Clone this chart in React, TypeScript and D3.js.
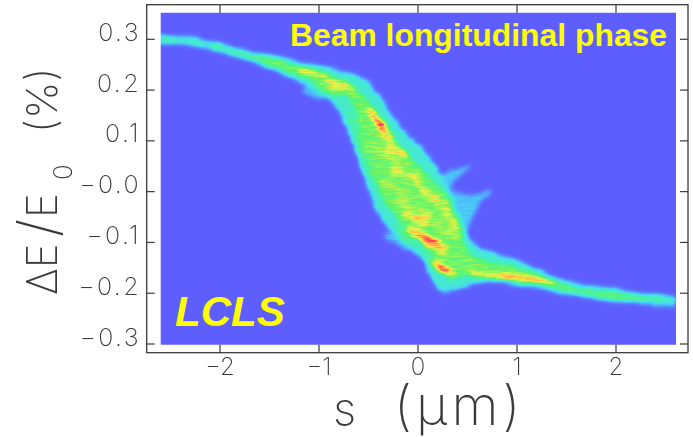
import React from "react";
import { scaleLinear, area, line, curveCatmullRom, curveCatmullRomClosed } from "d3";

// envelope of the beam (s in um, dE/E0 in %)
const outerS = [-2.61, -2.25, -1.9, -1.6, -1.2, -0.89, -0.69, -0.54, -0.39, -0.19, 0.02, 0.12, 0.22, 0.27, 0.36, 0.52, 0.62, 0.82, 1.16, 1.49, 1.83, 2.16, 2.59];
const outerTop = [0.305, 0.299, 0.283, 0.27, 0.251, 0.241, 0.231, 0.217, 0.184, 0.125, 0.084, 0.062, 0.03, 0.008, -0.032, -0.097, -0.112, -0.127, -0.153, -0.178, -0.19, -0.2, -0.21];
const outerBottom = [0.295, 0.289, 0.272, 0.254, 0.221, 0.186, 0.123, 0.038, -0.04, -0.088, -0.113, -0.158, -0.19, -0.198, -0.19, -0.182, -0.178, -0.176, -0.184, -0.199, -0.209, -0.217, -0.222];

const coreS = [-2.05, -1.9, -1.6, -1.2, -0.89, -0.69, -0.54, -0.39, -0.19, 0.02, 0.22, 0.37, 0.52, 0.82, 1.16, 1.49, 1.83, 2.16, 2.44];
const coreTop = [0.292, 0.278, 0.265, 0.245, 0.228, 0.212, 0.185, 0.15, 0.092, 0.052, 0.005, -0.045, -0.118, -0.142, -0.16, -0.184, -0.196, -0.205, -0.211];
const coreBottom = [0.288, 0.275, 0.257, 0.229, 0.2, 0.178, 0.075, -0.005, -0.058, -0.098, -0.138, -0.168, -0.165, -0.164, -0.178, -0.194, -0.204, -0.212, -0.217];

// faint lobes sticking out of the beam
const lobes: [number, number][][] = [
  [[0.22, 0.032], [0.37, 0.042], [0.52, 0.052], [0.47, 0.038], [0.37, 0.023], [0.32, 0.007]],
  [[0.27, 0.003], [0.52, -0.007], [0.74, 0.003], [0.62, -0.027], [0.52, -0.066], [0.42, -0.095], [0.32, -0.086]],
  [[-1.17, 0.204], [-0.84, 0.21], [-0.74, 0.19], [-1.04, 0.186]],
  [[-0.34, -0.086], [-0.14, -0.082], [0.02, -0.119], [-0.14, -0.111]],
  [[-0.72, 0.17], [-0.6, 0.12], [-0.5, 0.02], [-0.62, 0.08]],
];

// dense streaks: s0, dE0, s1, dE1, spread
const greenStreaks = [
  [-0.42, 0.09, -0.2, 0.06, 0.016],
  [-0.36, 0.02, -0.12, -0.01, 0.016],
  [-0.2, -0.02, 0.1, -0.05, 0.016],
  [0.05, 0, 0.3, -0.04, 0.014],
  [-0.2, -0.07, 0.1, -0.1, 0.014],
  [0.05, -0.04, 0.3, -0.08, 0.014],
  [0, -0.12, 0.3, -0.15, 0.016],
];
const yellowStreaks = [
  [-1.18, 0.237, -0.94, 0.229, 0.011],
  [-0.89, 0.216, -0.67, 0.204, 0.011],
  [-0.47, 0.16, -0.27, 0.101, 0.018],
  [-0.32, 0.082, -0.14, 0.076, 0.012],
  [-0.24, 0.042, -0.02, 0.029, 0.012],
  [-0.02, 0.017, 0.19, -0.017, 0.008],
  [-0.12, -0.046, 0.09, -0.06, 0.012],
  [-0.06, -0.076, 0.25, -0.115, 0.018],
  [0.17, -0.139, 0.34, -0.164, 0.018],
  [0.55, -0.158, 1.36, -0.18, 0.012],
];
const redStreaks = [
  [-0.43, 0.145, -0.37, 0.125, 0.012],
  [0.02, -0.088, 0.19, -0.101, 0.01],
  [0.22, -0.149, 0.3, -0.158, 0.012],
  [0.72, -0.164, 1.28, -0.174, 0.006],
];

const xTicks = [-2, -1, 0, 1, 2];
const yTicks = [0.3, 0.2, 0.1, 0, -0.1, -0.2, -0.3];
const yTickLabels = ["0.3", "0.2", "0.1", "\u22120.0", "\u22120.1", "\u22120.2", "\u22120.3"];

const x = scaleLinear().domain([-2, 2]).range([220, 616]);
const y = scaleLinear().domain([0.3, -0.3]).range([39.3, 344]);

const frame = { left: 146.7, right: 688, top: 4.7, bottom: 352.7 };
const plate = { left: 160.7, right: 676, top: 12.7, bottom: 344.7 };
const labelFont = "Inter, Roboto, sans-serif";
const ink = "#3a3a3a";

function band(s: number[], top: number[], bottom: number[]) {
  const gen = area<number>()
    .x((_, i) => x(s[i]))
    .y0((_, i) => y(bottom[i]))
    .y1((_, i) => y(top[i]))
    .curve(curveCatmullRom);
  return gen(s) || "";
}

const lobePath = line<[number, number]>()
  .x((d) => x(d[0]))
  .y((d) => y(d[1]))
  .curve(curveCatmullRomClosed);

function Streaks({ rows, level }: { rows: number[][]; level: number }) {
  return (
    <g stroke="#fff" strokeOpacity={level} strokeLinecap="round" fill="none">
      {rows.map((r, i) => (
        <line key={i} x1={x(r[0])} y1={y(r[1])} x2={x(r[2])} y2={y(r[3])} strokeWidth={y(0) - y(r[4])} />
      ))}
    </g>
  );
}

export default function App() {
  return (
    <svg width={693} height={437} style={{ position: "absolute", left: 0, top: 0, background: "#fff" }}>
      <defs>
        <clipPath id="plate">
          <rect x={plate.left} y={plate.top} width={plate.right - plate.left} height={plate.bottom - plate.top} />
        </clipPath>
        {/* density drawn in grey, roughened, then pushed through the rainbow map */}
        <filter id="heat" filterUnits="userSpaceOnUse" x={0} y={0} width={693} height={437} colorInterpolationFilters="sRGB">
          <feTurbulence type="fractalNoise" baseFrequency="0.03 0.2" numOctaves={3} seed={4} result="warp" />
          <feDisplacementMap in="SourceGraphic" in2="warp" scale={7} xChannelSelector="R" yChannelSelector="G" result="rough" />
          <feGaussianBlur in="rough" stdDeviation={1.9} result="smooth" />
          <feTurbulence type="fractalNoise" baseFrequency="0.08 0.45" numOctaves={2} seed={11} />
          <feColorMatrix values="1 0 0 0 0  1 0 0 0 0  1 0 0 0 0  0 0 0 0 1" result="grain" />
          <feComposite in="smooth" in2="grain" operator="arithmetic" k1={0.5} k2={0.78} k3={0} k4={0} />
          <feComponentTransfer>
            <feFuncR type="table" tableValues=".37 .34 .28 .27 .29 .37 .63 .92 1 1 1" />
            <feFuncG type="table" tableValues=".37 .59 .84 .92 .95 .96 .96 .94 .75 .47 .24" />
            <feFuncB type="table" tableValues="1 1 .96 .82 .65 .43 .33 .29 .27 .29 .37" />
            <feFuncA type="linear" slope={0} intercept={1} />
          </feComponentTransfer>
        </filter>
        <filter id="ink">
          <feGaussianBlur stdDeviation={0.45} />
        </filter>
      </defs>

      <g clipPath="url(#plate)">
        <g filter="url(#heat)">
          <rect x={0} y={0} width={693} height={437} fill="#000" />
          {lobes.map((l, i) => (
            <path key={i} d={lobePath(l) || ""} fill="#fff" opacity={0.17} />
          ))}
          <path d={band(outerS, outerTop, outerBottom)} fill="none" stroke="#fff" strokeOpacity={0.14} strokeWidth={4} />
          <path d={band(outerS, outerTop, outerBottom)} fill="#fff" opacity={0.28} />
          <path d={band(coreS, coreTop, coreBottom)} fill="#fff" opacity={0.32} />
          <Streaks rows={greenStreaks} level={0.16} />
          <Streaks rows={yellowStreaks} level={0.42} />
          <Streaks rows={redStreaks} level={0.75} />
        </g>
      </g>

      <text x={290} y={46} fontFamily="'Liberation Sans', Arial, sans-serif" fontWeight={700} fontSize={31.8} textLength={377} fill="#ffff00">
        Beam longitudinal phase
      </text>
      <text x={175} y={326} fontFamily="'Liberation Sans', Arial, sans-serif" fontWeight={700} fontStyle="italic" fontSize={42} fill="#ffff00">
        LCLS
      </text>

      <g filter="url(#ink)">
        <rect x={frame.left} y={frame.top} width={frame.right - frame.left} height={frame.bottom - frame.top} fill="none" stroke={ink} strokeWidth={1.3} />
        {yTicks.map((t, i) => (
          <g key={t}>
            <line x1={frame.left} x2={frame.left + 8} y1={y(t)} y2={y(t)} stroke={ink} strokeWidth={1.2} />
            <line x1={frame.right - 8} x2={frame.right} y1={y(t)} y2={y(t)} stroke={ink} strokeWidth={1.2} />
            <text x={141} y={y(t) - 1} dy="0.1em" textAnchor="end" fontFamily={labelFont} fontWeight={200} fontSize={25} letterSpacing={2.4} fill={ink}>
              {yTickLabels[i]}
            </text>
          </g>
        ))}
        {xTicks.map((t) => (
          <g key={t}>
            <line x1={x(t)} x2={x(t)} y1={frame.top} y2={frame.top + 8} stroke={ink} strokeWidth={1.2} />
            <line x1={x(t)} x2={x(t)} y1={frame.bottom - 8} y2={frame.bottom} stroke={ink} strokeWidth={1.2} />
            <text x={x(t)} y={375} textAnchor="middle" fontFamily={labelFont} fontWeight={200} fontSize={24} fill={ink}>
              {t < 0 ? `\u2212${-t}` : t}
            </text>
          </g>
        ))}

        <text x={333} y={425} fontFamily={labelFont} fontWeight={200} fontSize={46} fill={ink}>
          s
        </text>
        <text x={394} y={425} fontFamily={labelFont} fontWeight={200} fontSize={54} letterSpacing={4} fill={ink}>
          (μm)
        </text>

        <g transform="translate(57,295) rotate(-90)" fontFamily={labelFont} fontWeight={200} fontSize={42} fill={ink}>
          <text x={0} y={0}>ΔE</text>
          <text x={58} y={0} fontSize={54}>/</text>
          <text x={77} y={0}>E</text>
          <text x={115} y={15} fontSize={26}>0</text>
          <text x={162} y={0}>(%)</text>
        </g>
      </g>
    </svg>
  );
}
